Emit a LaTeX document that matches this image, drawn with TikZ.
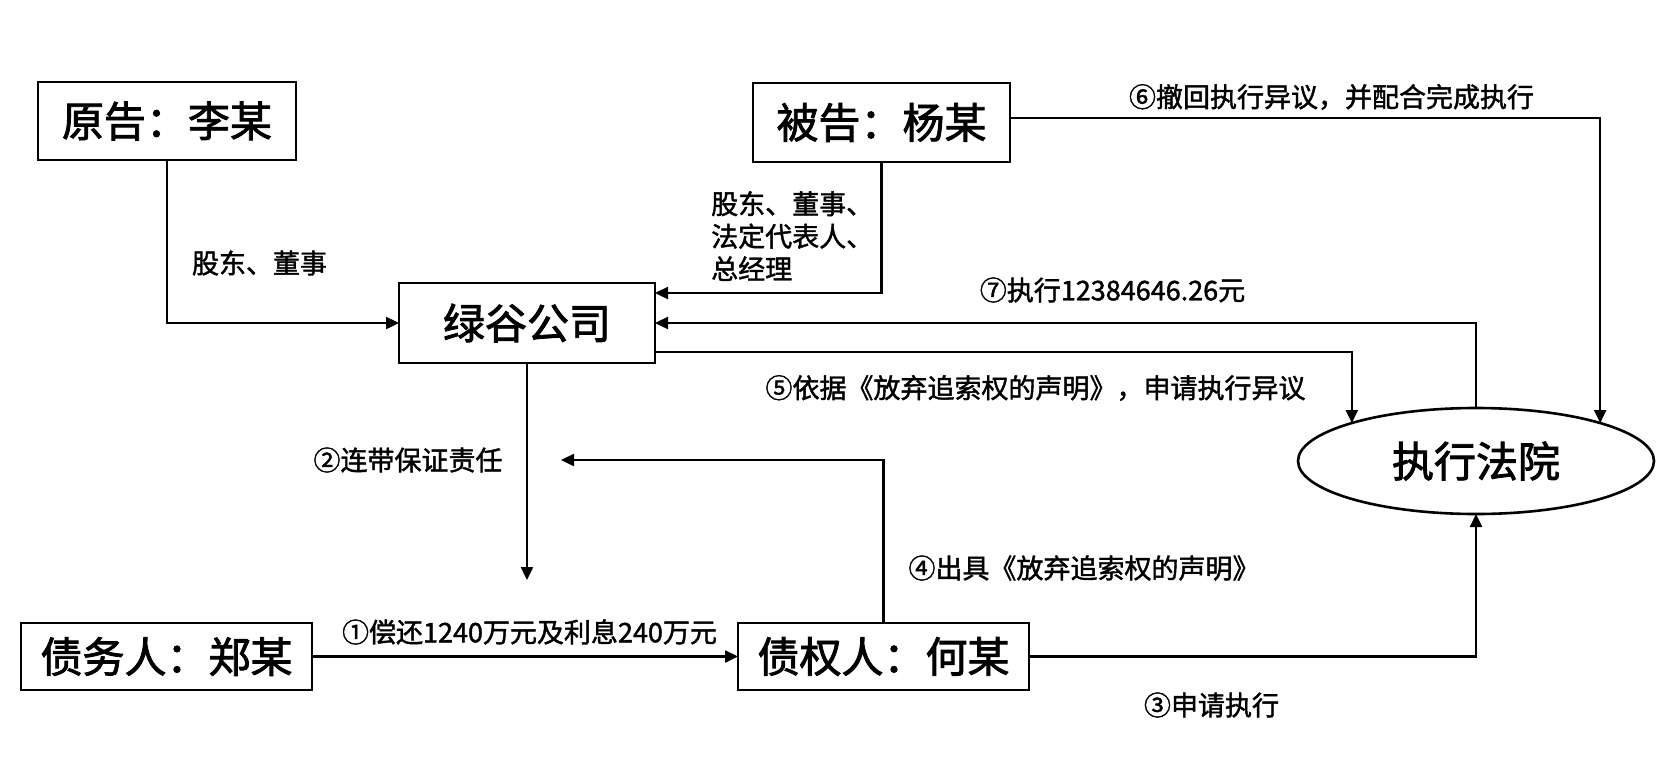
\documentclass[tikz,border=0pt]{standalone}
\usepackage{fontspec}
\setmainfont{Noto Sans CJK SC}
\newfontfamily\boxfont{Noto Sans CJK SC}[FakeBold=2]
\newfontfamily\labfont{Noto Sans CJK SC}[FakeBold=1.5]
\usetikzlibrary{arrows.meta,shapes.geometric}
\begin{document}
\begin{tikzpicture}[x=1pt,y=-1pt,
  box/.style={draw,line width=2.6pt,inner sep=0pt,outer sep=0pt,font=\boxfont\fontsize{42}{46}\selectfont},
  lab/.style={inner sep=0pt,font=\labfont\fontsize{27}{32.5}\selectfont},
  conn/.style={line width=2.4pt},
  arr/.style={conn,-{Triangle[length=13pt,width=12pt]}}]
\useasboundingbox[fill=white] (0,0) rectangle (1678,758);
% nodes
\node[box,minimum width=258pt,minimum height=78pt] (yuan) at (167,121) {原告：李某};
\node[box,minimum width=257pt,minimum height=79pt] (bei) at (881.5,122.5) {被告：杨某};
\node[box,minimum width=256pt,minimum height=80pt] (lvgu) at (527,323) {绿谷公司};
\node[box,ellipse,minimum width=356pt,minimum height=106pt] (court) at (1476,461) {执行法院};
\node[box,minimum width=291pt,minimum height=67pt] (debtor) at (166.5,656.5) {债务人：郑某};
\node[box,minimum width=291pt,minimum height=67pt] (creditor) at (883.5,656.5) {债权人：何某};
\coordinate (e2) at (527,580);
\coordinate (e4) at (561,460);
% connectors
\draw[arr] (yuan.south) |- (lvgu.west);
\draw[arr] (bei.south) |- ([yshift=30pt]lvgu.east);
\draw[arr] (court.north) |- (lvgu.east);
\draw[arr] ([yshift=-29pt]lvgu.east) -| (court.163.2);
\draw[arr] ([yshift=4.5pt]bei.east) -| (court.17.56);
\draw[arr] (lvgu.south) -- (e2);
\draw[arr] (creditor.north) |- (e4);
\draw[arr] (debtor.east) -- (creditor.west);
\draw[arr] (creditor.east) -| (court.south);
% labels
\node[lab] (l0) at (259.5,263) {股东、董事};
\node[lab,anchor=west,align=left] (l1) at (711,236) {股东、董事、\\法定代表人、\\总经理};
\node[lab] (l6) at (1331.5,97) {⑥撤回执行异议，并配合完成执行};
\node[lab] (l7) at (1112.5,290) {⑦执行12384646.26元};
\node[lab] (l5) at (1035.5,388) {⑤依据《放弃追索权的声明》，申请执行异议};
\node[lab] (l2) at (408,460) {②连带保证责任};
\node[lab] (l4) at (1084,568) {④出具《放弃追索权的声明》};
\node[lab] (l1b) at (529.5,632) {①偿还1240万元及利息240万元};
\node[lab] (l3) at (1211.5,705) {③申请执行};
\end{tikzpicture}
\end{document}
